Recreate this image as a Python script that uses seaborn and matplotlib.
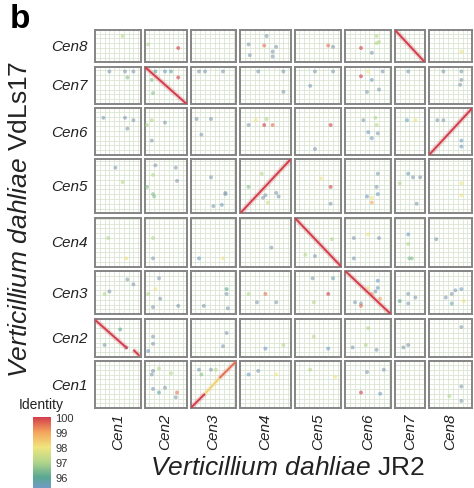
import numpy as np
import pandas as pd
import matplotlib.pyplot as plt
import seaborn as sns
from matplotlib.colors import LinearSegmentedColormap, Normalize
from matplotlib.cm import ScalarMappable

# ---- data -------------------------------------------------------------
chroms = ["Cen1", "Cen2", "Cen3", "Cen4", "Cen5", "Cen6", "Cen7", "Cen8"]
jr2_len = [38, 35, 38, 42, 39, 38, 25, 36]       # kb, x axis (JR2)
vdls17_len = [39, 32, 36, 41, 45, 39, 31, 27]    # kb, y axis (VdLs17)

# long syntenic alignments: JR2 chrom, VdLs17 chrom, start/end (kb), identity
aln_jr2 = [7, 2, 8, 4, 5, 6, 1, 1, 3, 3, 3]
aln_vdls = [8, 7, 6, 5, 4, 3, 2, 2, 1, 1, 1]
aln_x0 = [0, 0, 0, 0, 0, 0, 0, 32, 0, 12, 24]
aln_x1 = [25, 35, 36, 42, 39, 38, 27, 37, 12, 24, 38]
aln_y0 = [27, 31, 0, 0, 41, 36, 31, 6, 0, 12, 25]
aln_y1 = [0, 0, 39, 45, 0, 0, 7, 1, 12, 25, 39]
aln_ident = [100, 100, 100, 100, 100, 100, 100, 100, 100, 98.3, 99.5]

# short hits, one sub-list per VdLs17 chromosome (Cen1 ... Cen8)
G = 94.5  # low identity hits (grey-blue)
hit_jr2 = [
    [2, 2, 2, 2, 2, 2, 2, 2, 2, 3, 3, 3, 3, 4, 4, 4, 5, 5, 6, 6, 6, 6, 8, 8, 8],
    [1, 1, 1, 2, 2, 2, 3, 3, 4, 4, 5, 5, 6, 6, 6, 6, 7, 7, 8],
    [1, 1, 1, 1, 2, 2, 2, 2, 2, 2, 3, 3, 3, 3, 4, 4, 4, 4, 5, 5, 5, 5,
     6, 6, 6, 6, 6, 6, 6, 6, 6, 7, 7, 7, 7, 8, 8, 8, 8, 8, 8],
    [1, 1, 2, 2, 3, 3, 4, 5, 5, 5, 6, 6, 6, 6, 7, 7, 7, 7, 8],
    [1, 1, 2, 2, 2, 2, 2, 2, 2, 3, 3, 3, 3, 3, 4, 4, 4, 4, 4, 4, 4, 5, 5, 5,
     6, 6, 6, 6, 6, 6, 7, 7, 7, 7, 7, 8, 8],
    [1, 1, 1, 1, 2, 2, 2, 2, 3, 3, 3, 4, 4, 4, 4, 4, 5, 5, 6, 6, 6, 6, 6, 6,
     7, 7, 8, 8, 8, 8],
    [1, 1, 1, 1, 2, 2, 2, 2, 2, 2, 3, 3, 3, 4, 4, 4, 5, 5, 5, 6, 6, 6, 6, 6, 6,
     7, 8, 8, 8, 8],
    [1, 2, 2, 4, 4, 4, 4, 4, 4, 4, 5, 5, 6, 6, 6, 6, 6, 8],
]
hit_x = [
    [7, 6, 7, 12, 17, 27, 26, 12, 22, 7, 9, 17, 21, 7, 15, 30, 13, 34, 18, 32, 13, 29, 27, 27, 17],
    [21, 8, 26, 7, 7, 3, 30, 27, 21, 36, 28, 16, 19, 6, 26, 17, 7, 11, 27],
    [12, 8, 27, 32, 12, 3, 13, 7, 28, 9, 30, 30, 11, 31, 7, 21, 14, 30, 15, 32, 28, 16,
     27, 27, 25, 8, 13, 13, 29, 22, 19, 11, 17, 4, 11, 14, 19, 22, 27, 19, 29],
    [11, 26, 7, 7, 7, 27, 26, 31, 17, 9, 7, 28, 7, 19, 11, 11, 12, 14, 6],
    [17, 23, 9, 26, 7, 27, 2, 7, 8, 17, 29, 29, 26, 19, 7, 18, 30, 21, 32, 23, 19, 22, 30, 30,
     27, 26, 22, 18, 27, 22, 11, 15, 21, 4, 18, 27, 27],
    [7, 25, 32, 27, 2, 6, 17, 6, 5, 17, 9, 7, 13, 22, 20, 27, 30, 17, 15, 25, 26, 19, 27, 22,
     10, 17, 7, 12, 27, 27],
    [12, 25, 32, 27, 9, 17, 22, 28, 6, 7, 7, 12, 27, 15, 36, 36, 17, 32, 13, 13, 31, 22, 18, 28, 19,
     11, 12, 27, 27, 26],
    [23, 3, 28, 22, 7, 20, 30, 27, 8, 27, 28, 32, 26, 28, 26, 13, 22, 27],
]
hit_y = [
    [31, 28, 16, 13, 17, 13, 9, 33, 29, 32, 28, 32, 32, 28, 31, 28, 32, 26, 30, 32, 13, 12, 18, 6, 10],
    [23, 10, 8, 17, 11, 5, 20, 9, 7, 10, 7, 17, 24, 8, 6, 10, 8, 10, 25],
    [19, 17, 29, 25, 30, 17, 13, 6, 7, 21, 21, 17, 7, 5, 17, 17, 10, 10, 30, 30, 17, 10,
     28, 22, 19, 10, 9, 7, 13, 17, 22, 17, 14, 11, 9, 14, 17, 20, 21, 9, 11],
    [24, 7, 24, 7, 7, 7, 16, 23, 9, 10, 24, 24, 7, 27, 27, 19, 7, 7, 23],
    [38, 26, 40, 38, 32, 27, 22, 16, 14, 30, 17, 16, 7, 6, 22, 33, 17, 15, 14, 9, 13, 29, 22, 8,
     33, 22, 13, 14, 16, 9, 33, 30, 30, 25, 8, 25, 15],
    [31, 31, 29, 22, 25, 29, 27, 12, 30, 30, 17, 25, 29, 30, 25, 25, 25, 5, 29, 31, 25, 19, 18, 14,
     29, 29, 29, 29, 12, 7],
    [27, 27, 27, 22, 27, 27, 27, 22, 20, 9, 27, 27, 27, 27, 27, 10, 27, 27, 15, 23, 27, 20, 10, 12, 27,
     27, 27, 27, 20, 16],
    [22, 15, 12, 22, 15, 14, 13, 9, 6, 5, 14, 13, 22, 17, 16, 12, 8, 9],
]
hit_ident = [
    [G, G, G, 95.8, G, 99.5, G, 97, 97, G, 96.5, G, 97, 95.3, G, 98, 97, 98, G, G, 100, 95.3, G, G, 97],
    [96, G, G, G, G, 95.3, G, G, 95.3, 97, 95.3, 97, 97, G, G, 97, G, G, G],
    [G, 97, G, G, G, 97, G, G, G, 98, 96, G, G, G, 97, 99.5, G, G, G, 95.5, 100, 97,
     95.3, 95.3, G, G, G, 99.5, 99, 99, 98, G, G, 96, G, G, G, G, 95.3, 95.5, 98],
    [97, 98, 97, G, 95.3, 98, G, 97, G, 97, G, G, G, 98, 95.3, 97, 96.5, 96.5, G],
    [G, 97, G, G, 97, G, 96.5, 96.5, 96.5, G, G, G, 95.3, G, 96.5, 97, G, G, G, 97.5, G, 98, 100, G,
     G, G, 98, 95.3, 95.5, 99, 95.5, G, G, 97, G, 98, 98],
    [G, G, G, G, 97, 97, G, G, G, G, G, G, 98, 97, 100, 99.5, 100, G, G, 97, 97, 95.3, G, 95.3,
     95.5, 98, G, G, 95.3, 95.3],
    [G, G, G, 96.5, 95.8, 95.3, 95.8, 100, 96.5, 96.5, G, G, G, G, G, G, G, G, G, 100, G, 95.3, G, G, 98,
     G, G, G, G, G],
    [97, 97, 100, G, G, 99.5, G, G, G, G, 99.5, G, 97, 97, 97, 100, G, 98],
]

# identity colour scale
ident_stops = [94, 95.3, 96, 97, 98, 99, 100]
ident_colors = ["#8e98a4", "#6f9cc4", "#5aa893", "#b3d68a", "#f0e47e", "#f4a45c", "#d33d4b"]

# ---- tidy tables --------------------------------------------------------
rows = []
for r in range(8):
    for c, x, y, v in zip(hit_jr2[r], hit_x[r], hit_y[r], hit_ident[r]):
        rows.append((c, r + 1, x, y, v))
hits = pd.DataFrame(rows, columns=["jr2", "vdls", "x", "y", "ident"])
aln = pd.DataFrame({"jr2": aln_jr2, "vdls": aln_vdls, "x0": aln_x0, "x1": aln_x1,
                    "y0": aln_y0, "y1": aln_y1, "ident": aln_ident})

# ---- style --------------------------------------------------------------
sns.set_theme(style="white")
plt.rcParams["font.family"] = ["Liberation Sans", "DejaVu Sans"]
plt.rcParams["mathtext.fontset"] = "custom"
plt.rcParams["mathtext.it"] = "Liberation Sans:italic"
plt.rcParams["mathtext.rm"] = "Liberation Sans"

cmap = LinearSegmentedColormap.from_list(
    "ident", list(zip(np.interp(ident_stops, [94, 100], [0, 1]), ident_colors)))
norm = Normalize(94, 100)

W, H = 474, 489
fig = plt.figure(figsize=(W / 100, H / 100), dpi=100)

PX = 1.2               # pixels per kb
LEFT, TOP = 95, 31
GAP_X, GAP_Y = 4.0, 4.3

def fx(p):
    return p / W

def fy(p):
    return 1 - p / H

col_w = [L * PX for L in jr2_len]
col_left = LEFT + np.concatenate([[0], np.cumsum(np.array(col_w[:-1]) + GAP_X)])
row_order = list(range(7, -1, -1))  # Cen8 on top
row_h = [vdls17_len[i] * PX for i in row_order]
tops = TOP + np.concatenate([[0], np.cumsum(np.array(row_h[:-1]) + GAP_Y)])
row_top = {row_order[k]: tops[k] for k in range(8)}

for j in range(8):
    h = vdls17_len[j] * PX
    for i in range(8):
        w = col_w[i]
        ax = fig.add_axes([fx(col_left[i]), fy(row_top[j] + h), w / W, h / H])
        sub = hits[(hits.jr2 == i + 1) & (hits.vdls == j + 1)]
        if len(sub):
            sns.scatterplot(data=sub, x="x", y="y", hue="ident", palette=cmap,
                            hue_norm=norm, s=8, alpha=0.6, edgecolor="none",
                            legend=False, ax=ax, zorder=3)
        seg = aln[(aln.jr2 == i + 1) & (aln.vdls == j + 1)]
        for _, a in seg.iterrows():
            col = cmap(norm(a.ident))
            ax.plot([a.x0, a.x1], [a.y0, a.y1], color=col, lw=3.6, alpha=0.22,
                    solid_capstyle="butt", zorder=4)
            ax.plot([a.x0, a.x1], [a.y0, a.y1], color=col, lw=1.4,
                    solid_capstyle="butt", zorder=5)
        ax.set_xlim(0, jr2_len[i])
        ax.set_ylim(0, vdls17_len[j])
        ax.set_xticks(np.arange(4, jr2_len[i], 4))
        ax.set_yticks(np.arange(4, vdls17_len[j], 4))
        ax.grid(True, color="#d9e4d2", lw=0.6)
        ax.set_axisbelow(True)
        ax.tick_params(length=0, labelbottom=False, labelleft=False)
        ax.set_xlabel("")
        ax.set_ylabel("")
        for s in ax.spines.values():
            s.set_color("#858585")
            s.set_linewidth(1.4)

# chromosome labels
for j in range(8):
    yc = row_top[j] + vdls17_len[j] * PX / 2
    fig.text(fx(88), fy(yc), chroms[j], ha="right", va="center",
             style="italic", fontsize=11, color="#222222")
for i in range(8):
    xc = col_left[i] + col_w[i] / 2
    fig.text(fx(xc), fy(413), chroms[i], ha="center", va="top", rotation=90,
             style="italic", fontsize=11, color="#222222")

# axis titles
fig.text(fx(20), fy(219), r"$\mathit{Verticillium\ dahliae}$ VdLs17", rotation=90,
         ha="center", va="center", fontsize=19, color="#222222")
fig.text(fx(287), fy(468), r"$\mathit{Verticillium\ dahliae}$ JR2",
         ha="center", va="center", fontsize=19, color="#222222")
fig.text(fx(10), fy(4), "b", ha="left", va="top", fontsize=24,
         fontweight="bold", color="black")

# colour bar
fig.text(fx(19), fy(405), "Identity", ha="left", va="center", fontsize=10,
         color="#222222")
cax = fig.add_axes([fx(33), fy(418 + 90), 18 / W, 90 / H])
cb = fig.colorbar(ScalarMappable(norm=norm, cmap=cmap), cax=cax)
cb.set_ticks([96, 97, 98, 99, 100])
cb.outline.set_visible(False)
cax.tick_params(length=0, labelsize=8, colors="#333333", pad=3)

fig.savefig("out.png", dpi=100)
